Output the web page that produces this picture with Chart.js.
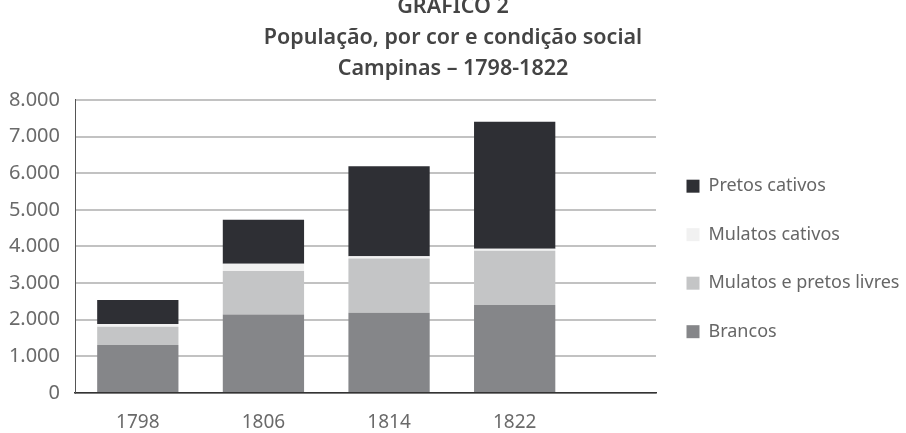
<!DOCTYPE html>
<html>
<head>
<meta charset="utf-8">
<script src="https://cdn.jsdelivr.net/npm/chart.js@4"></script>
<style>
  html, body { margin: 0; padding: 0; background: #fff; }
  #wrap { width: 906px; height: 433px; }
</style>
</head>
<body>
<div id="wrap"><canvas id="myChart" width="906" height="433"></canvas></div>
<script>
var years = [1798, 1806, 1814, 1822];
var brancos = [1310, 2140, 2190, 2400];
var livres = [500, 1190, 1480, 1480];
var mulatosCativos = [70, 200, 60, 60];
var pretosCativos = [660, 1200, 2460, 3460];
var yTicks = [0, 1000, 2000, 3000, 4000, 5000, 6000, 7000, 8000];
var titleLines = ['GRÁFICO 2', 'População, por cor e condição social', 'Campinas – 1798-1822'];

function milhar(v) {
  return String(v).replace(/\B(?=(\d{3})+(?!\d))/g, '.');
}

var ctx = document.getElementById('myChart');
var font = "'Noto Sans', sans-serif";

var myChart = new Chart(ctx, {
  type: 'bar',
  data: {
    labels: years,
    datasets: [
      { label: 'Brancos', data: brancos, backgroundColor: '#858689' },
      { label: 'Mulatos e pretos livres', data: livres, backgroundColor: '#c4c5c6' },
      { label: 'Mulatos cativos', data: mulatosCativos, backgroundColor: '#f1f1f1' },
      { label: 'Pretos cativos', data: pretosCativos, backgroundColor: '#2e2f34' }
    ]
  },
  options: {
    responsive: false,
    animation: false,
    layout: { padding: { left: 0, right: 0, top: 0, bottom: 0 } },
    datasets: {
      bar: { categoryPercentage: 1, barPercentage: 0.647 }
    },
    scales: {
      x: {
        type: 'linear',
        stacked: true,
        offset: false,
        min: 1794,
        max: 1831,
        afterBuildTicks: function (s) { s.ticks = years.map(function (y) { return { value: y }; }); },
        afterFit: function (s) { s.height = 40; },
        grid: { display: false, drawTicks: false, offset: false },
        border: { display: true, color: '#333', width: 1.5 },
        ticks: {
          padding: 18,
          color: '#6a6a6a',
          font: { family: font, size: 19 },
          callback: function (v) { return String(v); }
        }
      },
      y: {
        stacked: true,
        min: 0,
        max: 8000,
        afterBuildTicks: function (s) { s.ticks = yTicks.map(function (v) { return { value: v }; }); },
        afterFit: function (s) { s.width = 75; },
        grid: { color: '#c2c2c2', lineWidth: 2, drawTicks: false },
        border: { display: true, color: '#555', width: 1 },
        ticks: {
          padding: 15,
          color: '#6a6a6a',
          font: { family: font, size: 20 },
          callback: function (v) { return milhar(v); }
        }
      }
    },
    plugins: {
      title: {
        display: true,
        text: titleLines,
        color: '#444',
        font: { family: font, size: 21.5, weight: '600', lineHeight: 1.44 },
        padding: { top: -8.5, bottom: 15.5 }
      },
      legend: {
        position: 'right',
        reverse: true,
        fullSize: false,
        maxWidth: 250,
        title: { display: true, text: '', font: { size: 10, lineHeight: 1 }, padding: { top: 15, bottom: 0 } },
        labels: {
          boxWidth: 13,
          boxHeight: 13,
          padding: 30.5,
          color: '#666',
          font: { family: font, size: 18 }
        }
      },
      tooltip: { enabled: false }
    }
  }
});
</script>
</body>
</html>
